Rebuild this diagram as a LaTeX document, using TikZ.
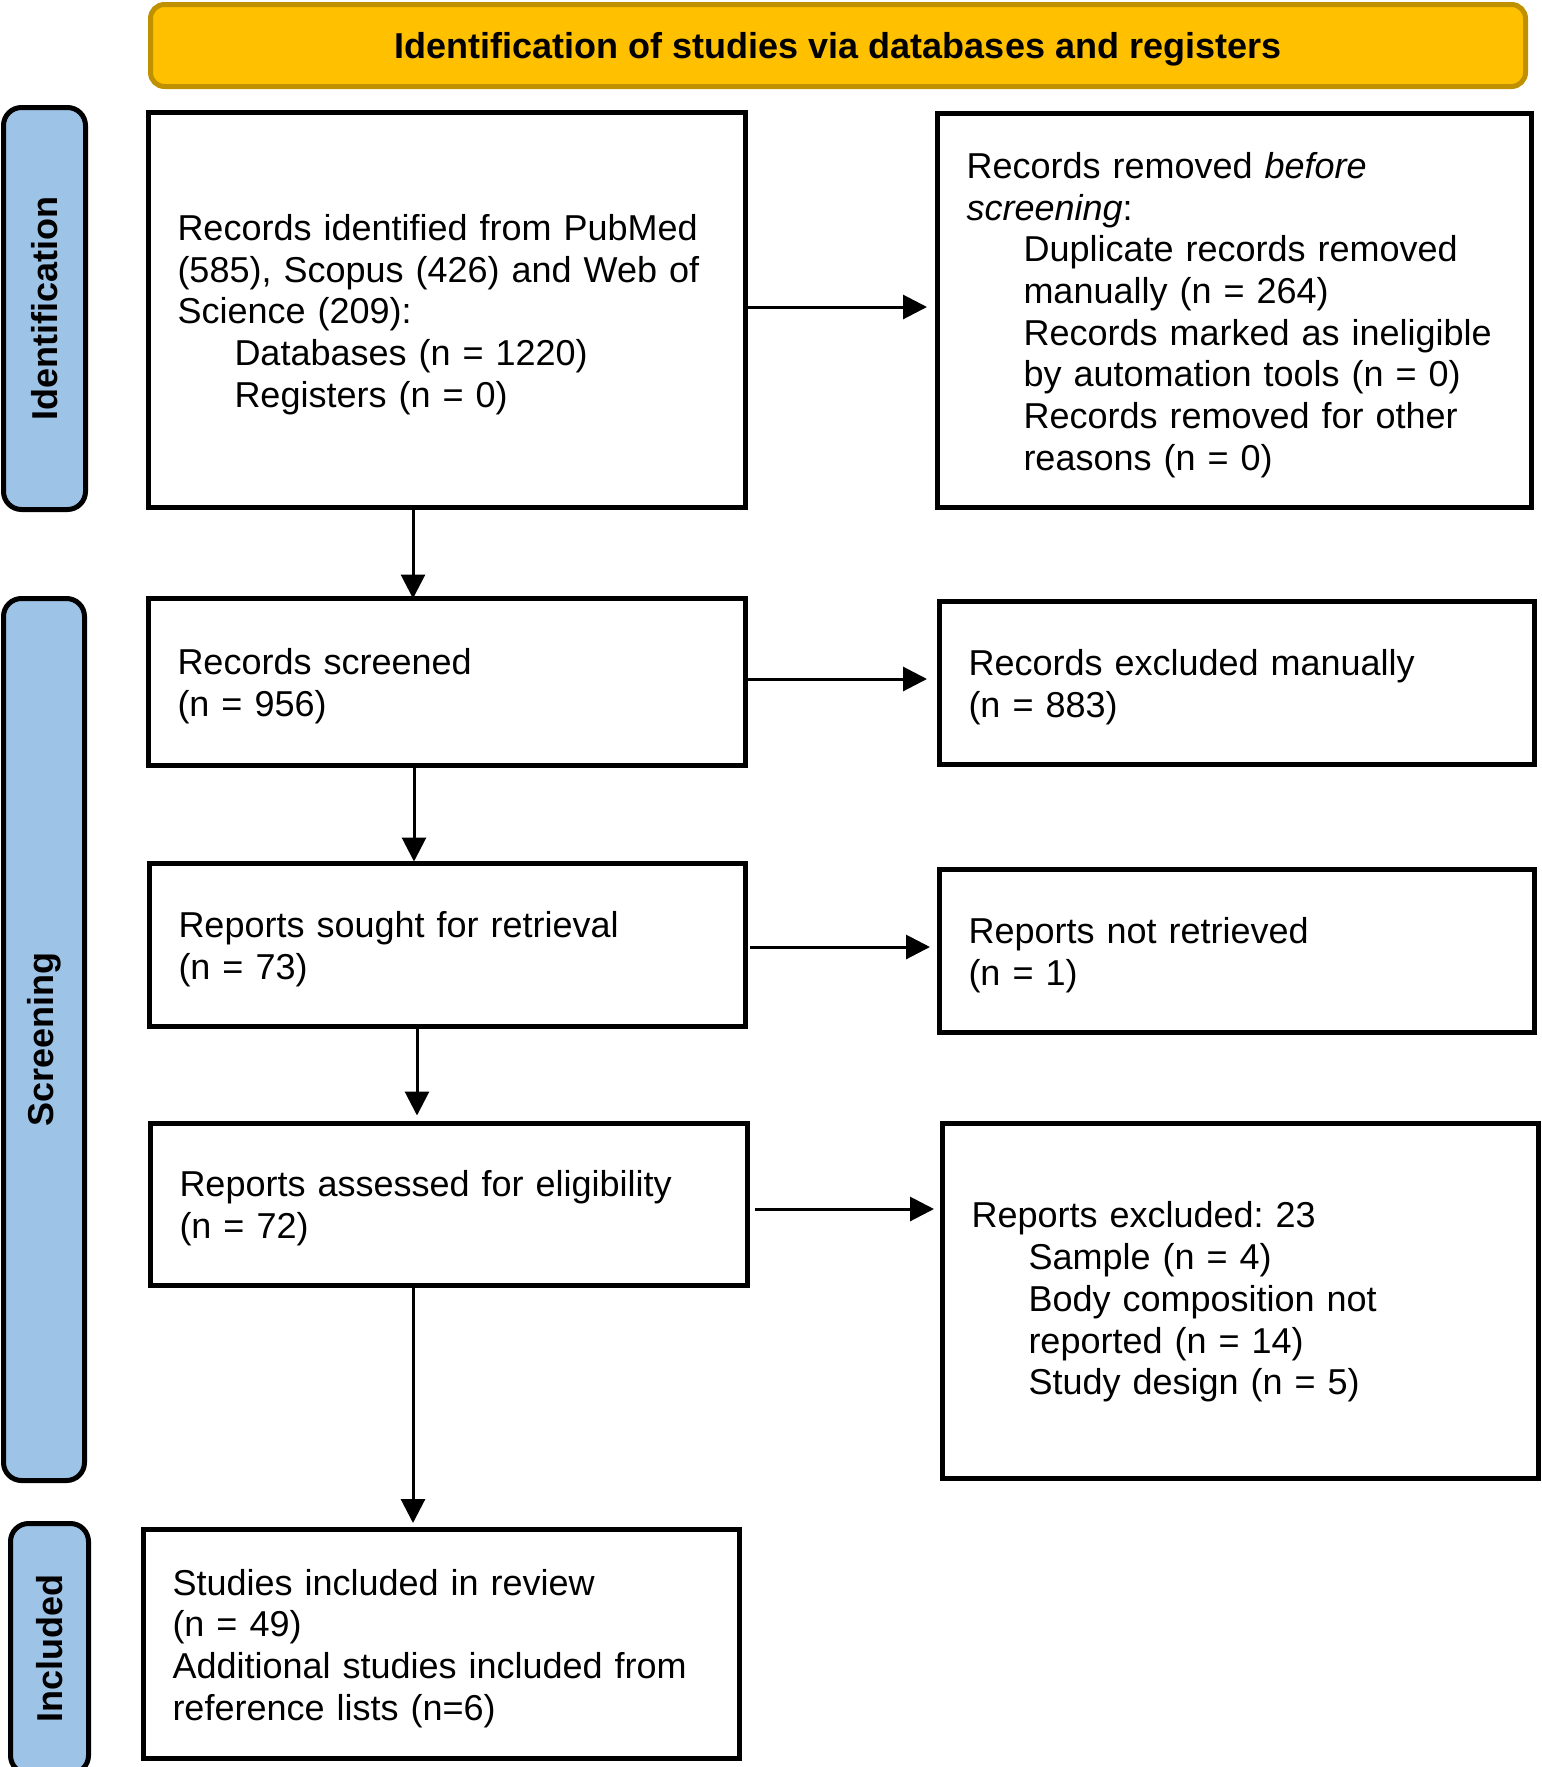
\documentclass[tikz,border=0pt]{standalone}
\usepackage{fontspec}
\setmainfont{Liberation Sans}
\usetikzlibrary{arrows.meta,calc}
\definecolor{gold}{RGB}{255,192,0}
\definecolor{golddark}{RGB}{191,144,0}
\definecolor{sideblue}{RGB}{157,195,230}
\newcommand{\bodyfnt}{\fontsize{36}{41.7}\selectfont\frenchspacing}
\newcommand{\ind}{\hspace*{57pt}}
\begin{document}
\begin{tikzpicture}[x=1pt,y=-1pt,
  box/.style={draw=black, line width=5pt, anchor=north west, outer sep=0pt, inner sep=0pt},
  txt/.style={inner sep=0pt, outer sep=0pt, align=left, font=\bodyfnt, yshift=-4.5pt},
  side/.style={draw=black, fill=sideblue, line width=5pt, rounded corners=18pt,
    outer sep=0pt, inner sep=0pt, rotate=90, font=\bodyfnt\bfseries},
  banner/.style={draw=golddark, fill=gold, line width=5pt, rounded corners=14pt,
    anchor=north west, outer sep=0pt, inner sep=0pt},
  arr/.style={-{Triangle[length=24pt,width=24pt]}, line width=3pt}]
\useasboundingbox (0,0) rectangle (1542,1767);

\node[banner, minimum width=1375pt, minimum height=82pt] (ban) at (150.5,4.5) {};
\node[font=\bodyfnt\bfseries, inner sep=0pt, yshift=-3.5pt] (bantxt) at (ban.center)
  {Identification of studies via databases and registers};

\node[side, minimum width=402pt, minimum height=82pt] (s1) at (44.5,308.5) {Identification};
\node[side, minimum width=882pt, minimum height=81pt] (s2) at (44,1039.5) {Screening};
\node[side, minimum width=250pt, minimum height=78pt] (s3) at (49.5,1648.5) {Included};

\node[box, minimum width=597pt, minimum height=395pt] (b1) at (148.5,112.5) {};
\node[txt, text width=539pt] (t1) at (b1.center)
  {Records identified from PubMed\\(585), Scopus (426) and Web of\\Science (209):\\\ind Databases (n = 1220)\\\ind Registers (n = 0)};
\node[box, minimum width=594pt, minimum height=394pt] (b2) at (937.5,113.5) {};
\node[txt, text width=536pt] (t2) at (b2.center)
  {Records removed \textit{before}\\\textit{screening}:\\\ind Duplicate records removed\\\ind manually (n = 264)\\\ind Records marked as ineligible\\\ind by automation tools (n = 0)\\\ind Records removed for other\\\ind reasons (n = 0)};
\node[box, minimum width=597pt, minimum height=167pt] (b3) at (148.5,598.5) {};
\node[txt, text width=539pt] (t3) at (b3.center) {Records screened\\(n = 956)};
\node[box, minimum width=595pt, minimum height=163pt] (b4) at (939.5,601.5) {};
\node[txt, text width=537pt] (t4) at (b4.center) {Records excluded manually\\(n = 883)};
\node[box, minimum width=596pt, minimum height=163pt] (b5) at (149.5,863.5) {};
\node[txt, text width=538pt] (t5) at (b5.center) {Reports sought for retrieval\\(n = 73)};
\node[box, minimum width=595pt, minimum height=163pt] (b6) at (939.5,869.5) {};
\node[txt, text width=537pt] (t6) at (b6.center) {Reports not retrieved\\(n = 1)};
\node[box, minimum width=597pt, minimum height=162pt] (b7) at (150.5,1123.5) {};
\node[txt, text width=539pt, yshift=1pt] (t7) at (b7.center) {Reports assessed for eligibility\\(n = 72)};
\node[box, minimum width=596pt, minimum height=355pt] (b8) at (942.5,1123.5) {};
\node[txt, text width=538pt, yshift=3.5pt] (t8) at (b8.center)
  {Reports excluded: 23\\\ind Sample (n = 4)\\\ind Body composition not\\\ind reported (n = 14)\\\ind Study design (n = 5)};
\node[box, minimum width=596pt, minimum height=229pt] (b9) at (143.5,1529.5) {};
\node[txt, text width=538pt] (t9) at (b9.center)
  {Studies included in review\\(n = 49)\\Additional studies included from\\reference lists (n=6)};

% horizontal connectors
\draw[arr, shorten >=10.5pt] ([yshift=3pt]b1.east) -- ([yshift=3pt]b1.east -| b2.west);
\draw[arr, shorten >=12.5pt] ([yshift=3pt]b3.east) -- ([yshift=3pt]b3.east -| b4.west);
\draw[arr, shorten <=4.5pt, shorten >=9.5pt] ([yshift=-2pt]b5.east) -- ([yshift=-2pt]b5.east -| b6.west);
\draw[arr, shorten <=7.5pt, shorten >=8.5pt] ([yshift=-4.5pt]b7.east) -- ([yshift=-4.5pt]b7.east -| b8.west);

% vertical connectors
\draw[arr] ([xshift=-34pt]b1.south) -- ([xshift=-34pt]b1.south |- b3.north);
\draw[arr, shorten >=2pt] ([xshift=-33pt]b3.south) -- ([xshift=-33pt]b3.south |- b5.north);
\draw[arr, shorten >=8pt] ([xshift=-30.5pt]b5.south) -- ([xshift=-30.5pt]b5.south |- b7.north);
\draw[arr, shorten >=6.5pt] ([xshift=-36pt]b7.south) -- ([xshift=-36pt]b7.south |- b9.north);
\end{tikzpicture}
\end{document}
